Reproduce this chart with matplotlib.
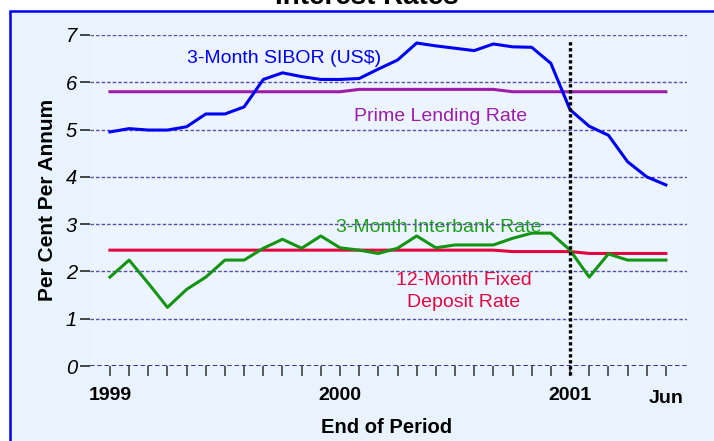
import matplotlib
matplotlib.use('Agg')
import matplotlib.pyplot as plt
import matplotlib.transforms as mtransforms
from matplotlib.patches import Rectangle

plt.rcParams['font.family'] = ['Liberation Sans', 'DejaVu Sans']

# monthly, Jan 1999 .. Jun 2001
months = list(range(30))
sibor = [4.95, 5.02, 4.99, 4.99, 5.06, 5.33, 5.33, 5.48, 6.06, 6.20,
         6.12, 6.06, 6.06, 6.08, 6.28, 6.47, 6.83, 6.77, 6.72, 6.67,
         6.81, 6.75, 6.74, 6.40, 5.42, 5.07, 4.88, 4.32, 4.00, 3.83]
prime = [5.80] * 13 + [5.85] * 8 + [5.80] * 9
interbank = [1.88, 2.24, 1.75, 1.24, 1.62, 1.88, 2.24, 2.24, 2.49, 2.68,
             2.49, 2.75, 2.50, 2.45, 2.38, 2.49, 2.75, 2.50, 2.56, 2.56,
             2.56, 2.70, 2.81, 2.81, 2.45, 1.88, 2.37, 2.24, 2.24, 2.24]
fixed_dep = [2.45] * 21 + [2.42] * 4 + [2.38] * 5

tick_pos = [0, 12, 24, 29]
tick_labels = ['1999', '2000', '2001', 'Jun']
split_month = 24

c_sibor = '#0000F5'
c_prime = '#9C1DAA'
c_inter = '#139413'
c_fd = '#E2063F'

fig = plt.figure(figsize=(7.14, 4.41), dpi=100)
fig.patch.set_facecolor('white')

# light blue panel with blue border (runs off right/bottom edge)
panel = Rectangle((9.5 / 714, -0.05), 1.05, 1 - 11 / 441 + 0.05,
                  transform=fig.transFigure, facecolor='#E9F3FE',
                  edgecolor='#0000EE', linewidth=1.8, zorder=-5)
fig.patches.append(panel)

fig.text(367 / 714, 1 - 4 / 441, 'Interest Rates', ha='center', va='baseline',
         fontsize=20, fontweight='bold')

ax = fig.add_axes([90 / 714, 1 - 366 / 441, 597 / 714, 331 / 441])
ax.set_zorder(2)
ax.set_facecolor('#ECF5FF')
for s in ax.spines.values():
    s.set_visible(False)

ax.set_xlim(-1.04, 30.1)
ax.set_ylim(0, 7)

for yv in range(1, 8):
    ax.axhline(yv, color='#5B4BAA', lw=1.0, linestyle=(0, (2.5, 1.5)), zorder=1)
ax.axhline(0, color='#2E1A9A', lw=1.3, linestyle=(0, (2.5, 1.5)), zorder=1)

ax.plot(months, prime, color=c_prime, lw=2.2, zorder=3)
ax.plot(months, fixed_dep, color=c_fd, lw=2.2, zorder=3)
ax.plot(months, interbank, color=c_inter, lw=2.2, zorder=4)
ax.plot(months, sibor, color=c_sibor, lw=2.2, zorder=5)

ax.plot([split_month, split_month], [-0.19, 6.87], color='black', lw=2.4,
        linestyle=(0, (1, 0.8)), clip_on=False, zorder=6)

ax.text(9.08, 6.40, '3-Month SIBOR (US$)', color=c_sibor, fontsize=14,
        ha='center', va='baseline')
ax.text(17.27, 5.19, 'Prime Lending Rate', color=c_prime, fontsize=14,
        ha='center', va='baseline')
# grid line runs over this label in the original
ax.text(17.16, 2.84, '3-Month Interbank Rate', color='#1E9E1E', fontsize=14,
        ha='center', va='baseline', zorder=0.5)
ax.text(18.47, 1.71, '12-Month Fixed', color=c_fd, fontsize=14,
        ha='center', va='baseline')
ax.text(18.47, 1.24, 'Deposit Rate', color=c_fd, fontsize=14,
        ha='center', va='baseline')

ax.set_yticks(range(0, 8))
ax.set_yticklabels([str(v) for v in range(0, 8)], fontstyle='italic', fontsize=14.5)
ax.tick_params(axis='y', length=7.2, width=1.4, color='#444444', pad=2)

ax.set_xticks(months, minor=True)
ax.set_xticks(tick_pos)
ax.set_xticklabels(tick_labels, fontweight='bold', fontsize=14)
ax.tick_params(axis='x', which='both', length=7.2, width=1.1, color='#333333',
               pad=8)
jun = ax.get_xticklabels()[-1]
jun.set_transform(jun.get_transform() +
                  mtransforms.ScaledTranslation(0, -3 / 100, fig.dpi_scale_trans))

fig.text(53 / 714, 1 - 200 / 441, 'Per Cent Per Annum', rotation=90,
         rotation_mode='anchor', ha='center', va='baseline',
         fontsize=15, fontweight='bold')
fig.text(387 / 714, 1 - 433 / 441, 'End of Period', ha='center', va='baseline',
         fontsize=14.5, fontweight='bold')

fig.savefig('out.png', dpi=100)
